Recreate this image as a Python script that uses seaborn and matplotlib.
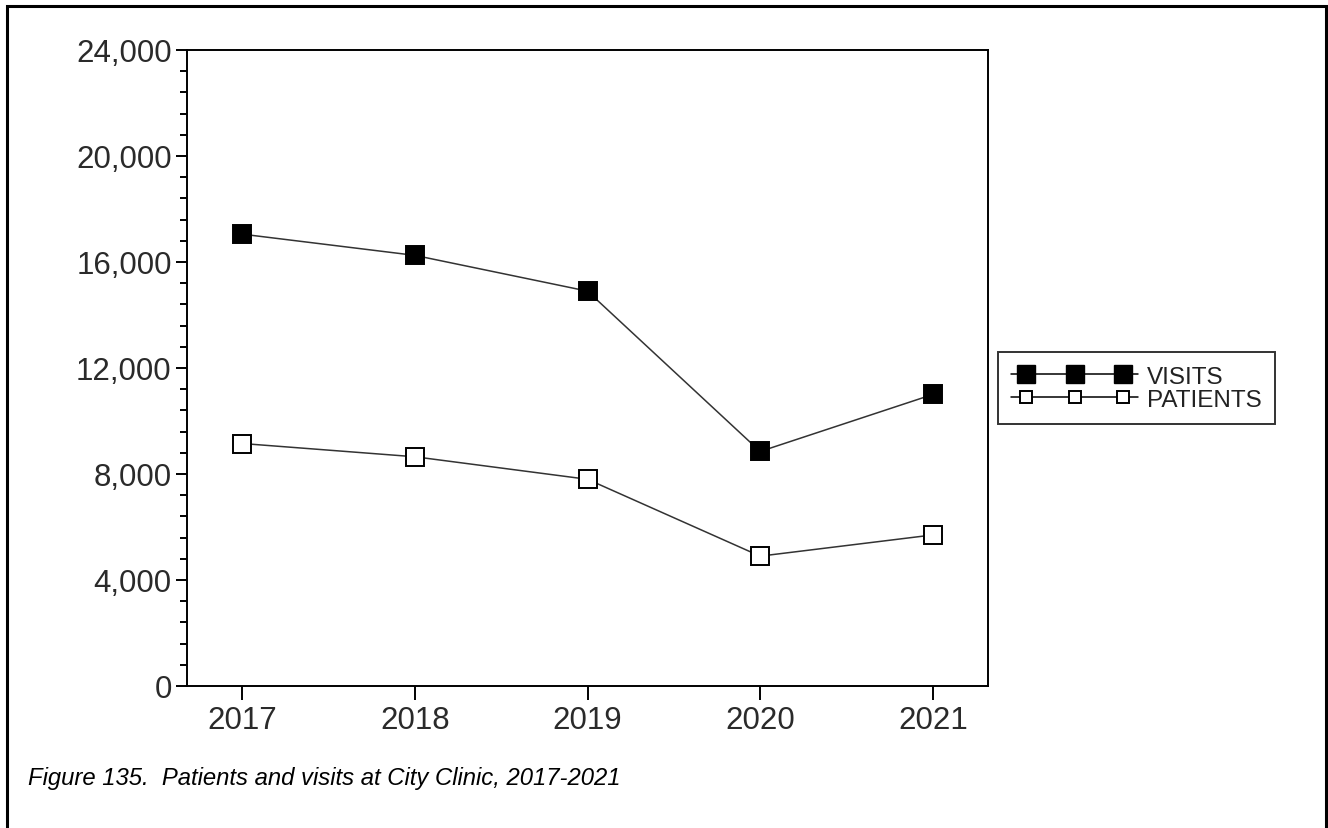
import pandas as pd
import matplotlib
matplotlib.use("Agg")
import matplotlib.pyplot as plt
import seaborn as sns
from matplotlib.lines import Line2D
from matplotlib.patches import Rectangle
from matplotlib.legend_handler import HandlerLine2D, HandlerTuple
from matplotlib.ticker import MultipleLocator, FuncFormatter

# Data
years = [2017, 2018, 2019, 2020, 2021]
visits = [17050, 16250, 14900, 8850, 11000]
patients = [9150, 8650, 7800, 4900, 5700]

df = pd.DataFrame({
    "Year": years * 2,
    "Count": visits + patients,
    "Series": ["VISITS"] * 5 + ["PATIENTS"] * 5,
})

sns.set_style("white")
plt.rcParams["font.family"] = ["Liberation Sans", "DejaVu Sans"]

fig = plt.figure(figsize=(13.28, 8.29), dpi=100)
ax = fig.add_axes([0.1408, 0.1713, 0.6032, 0.7672])

line_kw = dict(color="#333333", linewidth=1.1, marker="s", markersize=12.5,
               markeredgecolor="black", markeredgewidth=1.4)

sns.lineplot(data=df[df["Series"] == "VISITS"], x="Year", y="Count", ax=ax,
             markerfacecolor="black", legend=False, **line_kw)
sns.lineplot(data=df[df["Series"] == "PATIENTS"], x="Year", y="Count", ax=ax,
             markerfacecolor="white", legend=False, **line_kw)

ax.set_xlim(2016.68, 2021.32)
ax.set_ylim(0, 24000)
ax.set_xticks(years)
ax.set_xticklabels([str(y) for y in years])
ax.yaxis.set_major_locator(MultipleLocator(4000))
ax.yaxis.set_minor_locator(MultipleLocator(800))
ax.yaxis.set_major_formatter(FuncFormatter(lambda v, p: f"{int(v):,}"))
ax.set_xlabel("")
ax.set_ylabel("")

for s in ax.spines.values():
    s.set_color("black")
    s.set_linewidth(1.4)

ax.tick_params(axis="y", which="major", direction="out", length=8, width=1.4,
               color="black", labelsize=22.5, labelcolor="#2a2a2a", pad=3, left=True)
ax.tick_params(axis="y", which="minor", direction="out", length=5, width=1.4,
               color="black", left=True)
ax.tick_params(axis="x", which="major", direction="out", length=10, width=1.4,
               color="black", labelsize=22.5, labelcolor="#2a2a2a", pad=4, bottom=True)

# legend: plain line running past three square markers
base_v = Line2D([0], [0], color="black", linewidth=1.1)
mark_v = Line2D([0], [0], linestyle="none", marker="s", markersize=13,
                markerfacecolor="black", markeredgecolor="black")
base_p = Line2D([0], [0], color="black", linewidth=1.1)
mark_p = Line2D([0], [0], linestyle="none", marker="s", markersize=9,
                markerfacecolor="white", markeredgecolor="black", markeredgewidth=1.4)
hmap = {
    base_v: HandlerLine2D(marker_pad=0),
    base_p: HandlerLine2D(marker_pad=0),
    mark_v: HandlerLine2D(marker_pad=0.6),
    mark_p: HandlerLine2D(marker_pad=0.6),
    tuple: HandlerTuple(ndivide=1),
}
leg = fig.legend([(base_v, mark_v), (base_p, mark_p)], ["VISITS", "PATIENTS"],
                 handler_map=hmap, loc="upper left",
                 bbox_to_anchor=(0.7515, 0.574), numpoints=3, fontsize=17.5,
                 frameon=True, fancybox=False, edgecolor="black",
                 handlelength=5.2, handletextpad=0.37, borderpad=0.55,
                 labelspacing=0.05, borderaxespad=0)
leg.get_frame().set_linewidth(1.4)
for t in leg.get_texts():
    t.set_color("#222222")

fig.text(0.0211, 0.0531, "Figure 135.  Patients and visits at City Clinic, 2017-2021",
         fontsize=17.2, style="italic", color="black", va="baseline", ha="left")

# outer border of the figure
fig.patches.append(Rectangle((0.0053, -0.05), 0.9932, 1.0416, transform=fig.transFigure,
                             fill=False, edgecolor="black", linewidth=2.2))

fig.savefig("out.png", dpi=100)
